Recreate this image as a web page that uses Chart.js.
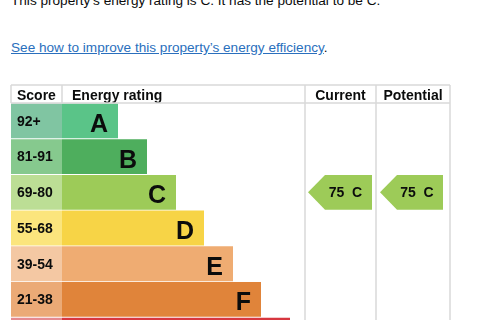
<!DOCTYPE html>
<html lang="en">
<head>
    <meta charset="UTF-8">
    <title>Energy rating</title>
    <style>
        html, body {
            margin: 0;
            padding: 0;
            width: 480px;
            height: 320px;
            overflow: hidden;
            background: #fff;
            font-family: "Liberation Sans", Arial, sans-serif;
            color: #0b0c0c;
        }
        .summary {
            position: absolute;
            left: 11px;
            top: -7px;
            margin: 0;
            font-size: 13.6px;
            line-height: 16px;
            white-space: nowrap;
        }
        .link-line {
            position: absolute;
            left: 11px;
            top: 40px;
            margin: 0;
            font-size: 13.6px;
            line-height: 16px;
            white-space: nowrap;
        }
        .link-line a {
            color: #2a6fbd;
            text-decoration: underline;
        }
        #ratingChart {
            position: absolute;
            left: 0;
            top: 84px;
        }
    </style>
    <script src="https://cdn.jsdelivr.net/npm/chart.js"></script>
</head>
<body>
    <p class="summary">This property’s energy rating is C. It has the potential to be C.</p>
    <p class="link-line"><a href="#">See how to improve this property’s energy efficiency</a>.</p>
    <canvas id="ratingChart" width="480" height="269"></canvas>

    <script>
        // rating bands, top to bottom
        const bands = ['A', 'B', 'C', 'D', 'E', 'F', 'G'];
        const scoreRanges = ['92+', '81-91', '69-80', '55-68', '39-54', '21-38', '1-20'];
        // bar length of each band (scale units)
        const barEnds = [107, 136, 165, 193, 222, 250, 279];
        const scoreColumnEnd = 51;
        const barColors = ['#5ac488', '#4eae5d', '#9dcb58', '#f7d446', '#efac72', '#e0843a', '#d7373f'];
        const scoreColors = ['#80c5a2', '#86c98e', '#bcde95', '#fbe57d', '#f4c8a3', '#ebaa76', '#e58a8f'];
        const headers = ['Score', 'Energy rating', 'Current', 'Potential'];
        // table columns: current and potential
        const columnEnds = [294, 365, 439];
        const currentScore = 75;
        const currentBand = 'C';
        const potentialScore = 75;
        const potentialBand = 'C';

        const lineColor = '#d9d9d9';

        const tablePlugin = {
            id: 'tablePlugin',
            afterDatasetsDraw(chart) {
                const ctx = chart.ctx;
                const x = chart.scales.x;
                const y = chart.scales.y;
                const area = chart.chartArea;
                const rowH = y.getPixelForValue(1) - y.getPixelForValue(0);
                const headTop = 1;
                const left = x.getPixelForValue(0);
                const scoreX = x.getPixelForValue(scoreColumnEnd);
                const colX = columnEnds.map(v => x.getPixelForValue(v));

                ctx.save();
                // score + letter labels
                bands.forEach((b, i) => {
                    const cy = y.getPixelForValue(i);
                    ctx.fillStyle = '#0b0c0c';
                    ctx.font = 'bold 14px "Liberation Sans", Arial, sans-serif';
                    ctx.textBaseline = 'middle';
                    ctx.textAlign = 'left';
                    ctx.fillText(scoreRanges[i], left + 6, cy + 1);
                    ctx.font = 'bold 25px "Liberation Sans", Arial, sans-serif';
                    ctx.textAlign = 'right';
                    ctx.textBaseline = 'alphabetic';
                    ctx.fillText(b, x.getPixelForValue(barEnds[i]) - 10, cy + 11);
                });

                // header row
                ctx.fillStyle = '#0b0c0c';
                ctx.font = 'bold 14px "Liberation Sans", Arial, sans-serif';
                ctx.textBaseline = 'alphabetic';
                ctx.textAlign = 'left';
                ctx.fillText(headers[0], left + 6, area.top - 3);
                ctx.fillText(headers[1], scoreX + 10, area.top - 3);
                ctx.textAlign = 'center';
                ctx.fillText(headers[2], (colX[0] + colX[1]) / 2, area.top - 3);
                ctx.fillText(headers[3], (colX[1] + colX[2]) / 2, area.top - 3);

                // grid lines
                ctx.strokeStyle = lineColor;
                ctx.lineWidth = 1.5;
                ctx.beginPath();
                ctx.moveTo(left, headTop);
                ctx.lineTo(colX[2], headTop);
                ctx.moveTo(left, area.top);
                ctx.lineTo(colX[2], area.top);
                ctx.moveTo(left, headTop);
                ctx.lineTo(left, area.top);
                ctx.moveTo(scoreX, headTop);
                ctx.lineTo(scoreX, area.top);
                colX.forEach(cx => {
                    ctx.moveTo(cx, headTop);
                    ctx.lineTo(cx, area.bottom);
                });
                ctx.stroke();

                // current / potential arrows
                const drawArrow = (colLeft, colRight, band, score, padL, padR) => {
                    const i = bands.indexOf(band);
                    const cy = y.getPixelForValue(i);
                    const top = cy - rowH / 2 + 0.5;
                    const bot = cy + rowH / 2 - 0.5;
                    const l = colLeft + padL;
                    const r = colRight - padR;
                    const tip = 17;
                    ctx.fillStyle = barColors[i];
                    ctx.beginPath();
                    ctx.moveTo(l, cy);
                    ctx.lineTo(l + tip, top);
                    ctx.lineTo(r, top);
                    ctx.lineTo(r, bot);
                    ctx.lineTo(l + tip, bot);
                    ctx.closePath();
                    ctx.fill();
                    ctx.fillStyle = '#0b0c0c';
                    ctx.font = 'bold 14px "Liberation Sans", Arial, sans-serif';
                    ctx.textAlign = 'center';
                    ctx.textBaseline = 'middle';
                    ctx.fillText(score + '  ' + band, (l + tip + r) / 2 - 3, cy + 1);
                };
                drawArrow(colX[0], colX[1], currentBand, currentScore, 3, 4);
                drawArrow(colX[1], colX[2], potentialBand, potentialScore, 4, 7);
                ctx.restore();
            }
        };

        const ctx = document.getElementById('ratingChart').getContext('2d');
        new Chart(ctx, {
            type: 'bar',
            data: {
                labels: bands,
                datasets: [{
                    label: 'Score',
                    data: bands.map(() => [0, scoreColumnEnd]),
                    backgroundColor: scoreColors,
                    grouped: false,
                    categoryPercentage: 1,
                    barPercentage: 0.975
                }, {
                    label: 'Energy rating',
                    data: barEnds.map(v => [scoreColumnEnd, v]),
                    backgroundColor: barColors,
                    grouped: false,
                    categoryPercentage: 1,
                    barPercentage: 0.975
                }]
            },
            options: {
                indexAxis: 'y',
                responsive: false,
                animation: false,
                layout: {
                    padding: { left: 11, right: 30, top: 19, bottom: 0 }
                },
                plugins: {
                    legend: { display: false },
                    tooltip: { enabled: false }
                },
                scales: {
                    x: { display: false, min: 0, max: 439 },
                    y: { display: false }
                }
            },
            plugins: [tablePlugin]
        });
    </script>
</body>
</html>
